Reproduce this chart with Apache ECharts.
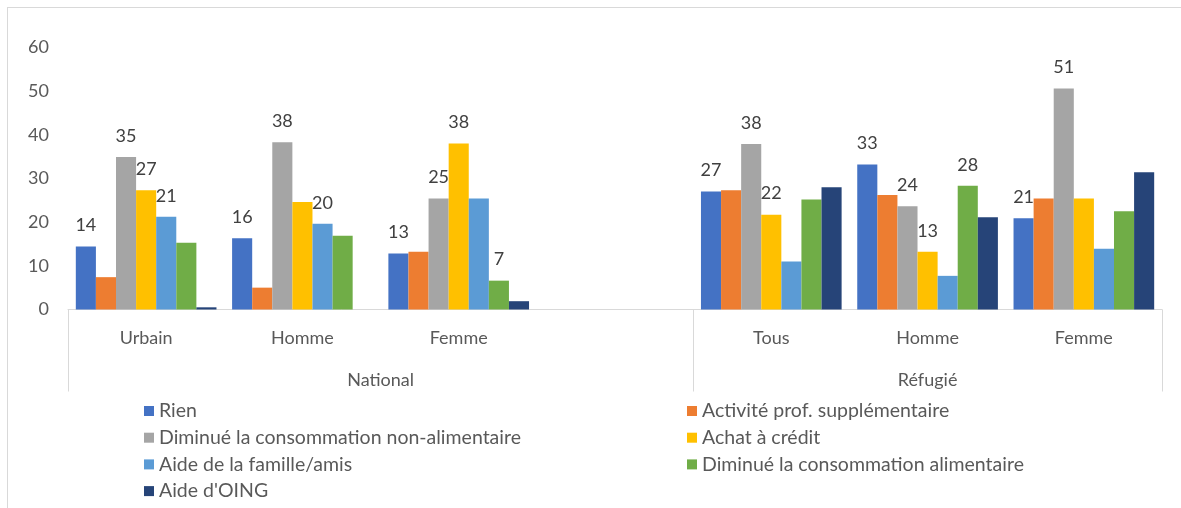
<!DOCTYPE html>
<html>
<head>
<meta charset="utf-8">
<script src="https://cdn.jsdelivr.net/npm/echarts@6/dist/echarts.min.js"></script>
<style>
  html, body { margin: 0; padding: 0; background: #fff; overflow: hidden; }
  /* cadre gris clair autour du graphique */
  #frame { position: absolute; left: 7px; top: 7px; width: 1200px; height: 520px; border: 1px solid #d9d9d9; }
  #chart { position: absolute; left: 0; top: 0; width: 1181px; height: 508px; }
</style>
</head>
<body>
<div id="frame"></div>
<div id="chart"></div>
<script>
// catégories (niveau 1) et groupes (niveau 2)
const categories = ['Urbain', 'Homme', 'Femme', '', 'Tous', 'Homme', 'Femme'];
const groups = ['National', 'Réfugié'];
const groupSizes = [4, 3];

// valeurs (%)
const rien            = [14.4, 16.3, 12.8, null, 27.0, 33.2, 20.9];
const activite        = [7.4, 5.0, 13.2, null, 27.3, 26.2, 25.4];
const nonAlimentaire  = [34.9, 38.3, 25.4, null, 37.9, 23.6, 50.6];
const achatCredit     = [27.3, 24.6, 38.0, null, 21.7, 13.2, 25.4];
const aideFamille     = [21.2, 19.6, 25.4, null, 11.0, 7.7, 13.9];
const alimentaire     = [15.3, 16.9, 6.6, null, 25.2, 28.3, 22.5];
const aideOing        = [0.5, 0, 1.9, null, 28.0, 21.1, 31.4];

// index des barres qui portent une étiquette
const rienLabels = [0, 1, 2, 4, 5, 6];
const nonAlimLabels = [0, 1, 2, 4, 5, 6];
const achatLabels = [0, 2, 4, 5];
const familleLabels = [0, 1];
const alimLabels = [2, 5];

const yTicks = [0, 10, 20, 30, 40, 50, 60];

const FONT = 'Lato, "Noto Sans", sans-serif';

function makeSeries(name, values, color, labelIdx) {
    return {
        name: name,
        type: 'bar',
        barGap: 0,
        barCategoryGap: '10%',
        itemStyle: { color: color },
        label: {
            show: false,
            position: 'top',
            distance: 12,
            color: '#404040',
            fontSize: 18,
            fontFamily: FONT,
            formatter: p => Math.round(p.value)
        },
        data: values.map((v, i) => ({
            value: v,
            label: { show: (labelIdx || []).includes(i) }
        }))
    };
}

// bornes des groupes sur le second axe
const bounds = [0];
groupSizes.forEach(n => bounds.push(bounds[bounds.length - 1] + n));
const groupCenters = groupSizes.map((n, i) => bounds[i] + n / 2);

const legendText = { fontSize: 19.5, lineHeight: 20, color: '#595959', fontFamily: FONT };

const chart = echarts.init(document.getElementById('chart'));
chart.setOption({
    animation: false,
    grid: { left: 68, right: 19, top: 47.3, bottom: 198.5 },
    legend: [
        {
            orient: 'vertical',
            left: 144,
            top: 401,
            padding: 0,
            icon: 'rect',
            itemWidth: 10,
            itemHeight: 10,
            itemGap: 6.7,
            textStyle: legendText,
            data: ['Rien', 'Diminué la consommation non-alimentaire', 'Aide de la famille/amis', "Aide d'OING"]
        },
        {
            orient: 'vertical',
            left: 687,
            top: 401,
            padding: 0,
            icon: 'rect',
            itemWidth: 10,
            itemHeight: 10,
            itemGap: 6.7,
            textStyle: legendText,
            data: ['Activité prof. supplémentaire', 'Achat à crédit', 'Diminué la consommation alimentaire']
        }
    ],
    xAxis: [
        {
            type: 'category',
            data: categories,
            axisLine: { lineStyle: { color: '#d9d9d9', width: 1 } },
            axisTick: { show: false },
            axisLabel: { interval: 0, margin: 20, fontSize: 18, color: '#595959', fontFamily: FONT }
        },
        {
            type: 'value',
            position: 'bottom',
            min: 0,
            max: bounds[bounds.length - 1],
            axisLine: { show: false },
            splitLine: { show: false },
            axisTick: {
                show: true,
                customValues: bounds,
                length: 82,
                lineStyle: { color: '#d9d9d9', width: 1 }
            },
            axisLabel: {
                customValues: groupCenters,
                margin: 62,
                fontSize: 18,
                color: '#595959',
                fontFamily: FONT,
                formatter: v => groups[groupCenters.indexOf(v)]
            }
        }
    ],
    yAxis: {
        type: 'value',
        min: yTicks[0],
        max: yTicks[yTicks.length - 1],
        interval: 10,
        axisLine: { show: false },
        axisTick: { show: false },
        splitLine: { show: false },
        axisLabel: { margin: 19, fontSize: 18, color: '#595959', fontFamily: FONT }
    },
    series: [
        makeSeries('Rien', rien, '#4472C4', rienLabels),
        makeSeries('Activité prof. supplémentaire', activite, '#ED7D31'),
        makeSeries('Diminué la consommation non-alimentaire', nonAlimentaire, '#A5A5A5', nonAlimLabels),
        makeSeries('Achat à crédit', achatCredit, '#FFC000', achatLabels),
        makeSeries('Aide de la famille/amis', aideFamille, '#5B9BD5', familleLabels),
        makeSeries('Diminué la consommation alimentaire', alimentaire, '#70AD47', alimLabels),
        makeSeries("Aide d'OING", aideOing, '#264478')
    ]
});
</script>
</body>
</html>
